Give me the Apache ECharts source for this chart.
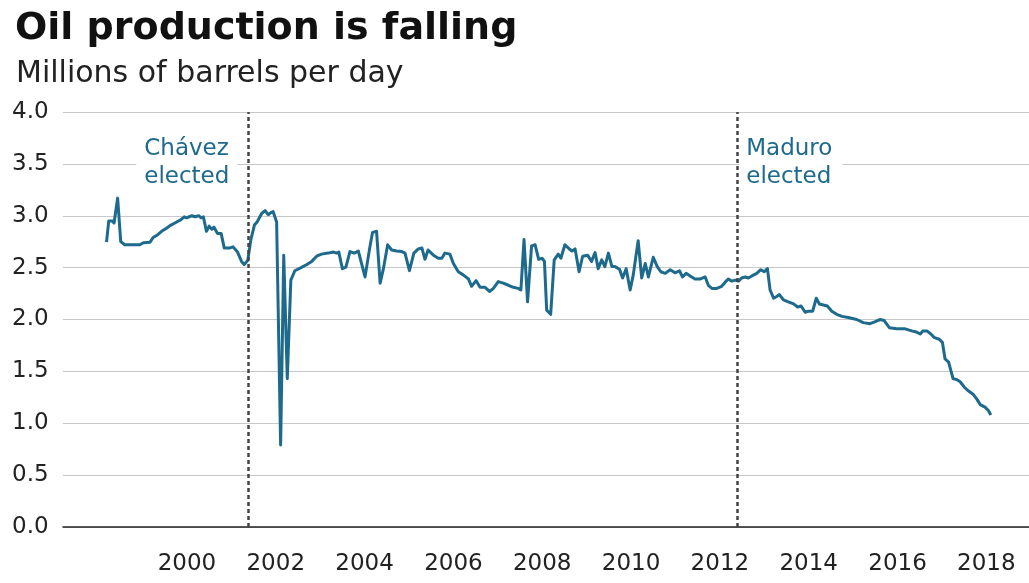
<!DOCTYPE html>
<html>
<head>
<meta charset="utf-8">
<title>Oil production is falling</title>
<script src="https://cdn.jsdelivr.net/npm/echarts@6/dist/echarts.min.js"></script>
<style>
  html, body { margin: 0; padding: 0; background: #fff; }
  #chart { width: 1029px; height: 583px; }
</style>
</head>
<body>
<div id="chart"></div>
<script>
// fractional years
const years = [
  1998.19, 1998.24, 1998.32, 1998.36, 1998.44, 1998.51, 1998.60, 1998.94, 1999.02, 1999.17,
  1999.24, 1999.35, 1999.43, 1999.54, 1999.64, 1999.77, 1999.86, 1999.94, 1999.99, 2000.11,
  2000.18, 2000.27, 2000.32, 2000.37, 2000.44, 2000.50, 2000.56, 2000.61, 2000.69, 2000.77,
  2000.84, 2000.97, 2001.04, 2001.14, 2001.23, 2001.29, 2001.37, 2001.44, 2001.52, 2001.58,
  2001.68, 2001.76, 2001.83, 2001.89, 2001.94, 2002.02, 2002.11, 2002.18, 2002.26, 2002.34,
  2002.43, 2002.57, 2002.70, 2002.81, 2002.92, 2003.03, 2003.18, 2003.30, 2003.37, 2003.42,
  2003.50, 2003.58, 2003.67, 2003.77, 2003.86, 2004.01, 2004.12, 2004.18, 2004.27, 2004.35,
  2004.42, 2004.52, 2004.61, 2004.72, 2004.84, 2004.91, 2005.01, 2005.11, 2005.21, 2005.29,
  2005.36, 2005.43, 2005.55, 2005.66, 2005.74, 2005.81, 2005.92, 2006.00, 2006.11, 2006.22,
  2006.34, 2006.41, 2006.51, 2006.60, 2006.71, 2006.82, 2006.90, 2007.01, 2007.12, 2007.24,
  2007.35, 2007.46, 2007.52, 2007.59, 2007.67, 2007.76, 2007.84, 2007.92, 2008.00, 2008.05,
  2008.10, 2008.19, 2008.27, 2008.36, 2008.42, 2008.51, 2008.61, 2008.67, 2008.74, 2008.83,
  2008.91, 2009.02, 2009.11, 2009.19, 2009.26, 2009.34, 2009.41, 2009.49, 2009.57, 2009.64,
  2009.74, 2009.81, 2009.89, 2009.98, 2010.05, 2010.16, 2010.24, 2010.32, 2010.39, 2010.50,
  2010.59, 2010.67, 2010.77, 2010.88, 2010.99, 2011.09, 2011.16, 2011.24, 2011.33, 2011.44,
  2011.55, 2011.67, 2011.74, 2011.82, 2011.93, 2012.04, 2012.12, 2012.19, 2012.27, 2012.34,
  2012.42, 2012.49, 2012.57, 2012.64, 2012.72, 2012.83, 2012.92, 2013.00, 2013.07, 2013.13,
  2013.21, 2013.27, 2013.34, 2013.43, 2013.54, 2013.66, 2013.75, 2013.83, 2013.92, 2013.99,
  2014.09, 2014.17, 2014.24, 2014.33, 2014.42, 2014.52, 2014.63, 2014.75, 2014.89, 2015.08,
  2015.23, 2015.38, 2015.50, 2015.61, 2015.70, 2015.82, 2015.98, 2016.17, 2016.32, 2016.42,
  2016.51, 2016.57, 2016.66, 2016.75, 2016.83, 2016.94, 2017.01, 2017.07, 2017.15, 2017.25,
  2017.34, 2017.41, 2017.50, 2017.57, 2017.70, 2017.79, 2017.86, 2017.97, 2018.05, 2018.10
];

// millions of barrels per day
const production = [
  2.745, 2.95, 2.95, 2.93, 3.17, 2.75, 2.72, 2.72, 2.74, 2.745,
  2.79, 2.82, 2.85, 2.88, 2.91, 2.94, 2.96, 2.99, 2.98, 3.00,
  2.99, 3.00, 2.98, 2.99, 2.85, 2.90, 2.87, 2.89, 2.83, 2.83,
  2.69, 2.69, 2.70, 2.65, 2.56, 2.53, 2.57, 2.77, 2.91, 2.94,
  3.02, 3.05, 3.01, 3.03, 3.04, 2.94, 0.79, 2.62, 1.43, 2.38,
  2.47, 2.50, 2.53, 2.56, 2.61, 2.63, 2.64, 2.65, 2.64, 2.65,
  2.49, 2.505, 2.655, 2.64, 2.66, 2.41, 2.70, 2.84, 2.85, 2.35,
  2.48, 2.72, 2.67, 2.66, 2.655, 2.64, 2.47, 2.64, 2.68, 2.69,
  2.58, 2.67, 2.62, 2.59, 2.59, 2.64, 2.63, 2.54, 2.46, 2.43,
  2.39, 2.32, 2.375, 2.31, 2.31, 2.27, 2.30, 2.365, 2.35, 2.33,
  2.31, 2.30, 2.285, 2.77, 2.17, 2.71, 2.72, 2.58, 2.59, 2.56,
  2.09, 2.05, 2.575, 2.63, 2.59, 2.72, 2.68, 2.66, 2.68, 2.46,
  2.61, 2.62, 2.56, 2.645, 2.49, 2.575, 2.51, 2.64, 2.51, 2.51,
  2.485, 2.40, 2.49, 2.285, 2.43, 2.76, 2.40, 2.54, 2.41, 2.60,
  2.51, 2.46, 2.445, 2.48, 2.45, 2.47, 2.41, 2.445, 2.42, 2.39,
  2.39, 2.41, 2.33, 2.30, 2.30, 2.32, 2.36, 2.39, 2.37, 2.38,
  2.37, 2.40, 2.41, 2.40, 2.42, 2.445, 2.48, 2.46, 2.49, 2.285,
  2.205, 2.22, 2.24, 2.19, 2.17, 2.15, 2.12, 2.13, 2.07, 2.08,
  2.08, 2.205, 2.15, 2.14, 2.13, 2.08, 2.05, 2.03, 2.02, 2.00,
  1.97, 1.96, 1.98, 2.00, 1.99, 1.92, 1.91, 1.91, 1.89, 1.88,
  1.86, 1.89, 1.89, 1.86, 1.825, 1.81, 1.78, 1.62, 1.59, 1.43,
  1.42, 1.40, 1.35, 1.32, 1.28, 1.23, 1.18, 1.155, 1.12, 1.08
];

const yearTicks = [2000, 2002, 2004, 2006, 2008, 2010, 2012, 2014, 2016, 2018];

const events = ["Chávez\nelected", "Maduro\nelected"];
const eventYears = [2001.37, 2012.38];

const teal = "#1d6a8d";
const font = "DejaVu Sans";

const chart = echarts.init(document.getElementById("chart"), null, { renderer: "canvas" });

const option = {
  backgroundColor: "#fff",
  animation: false,
  title: [
    {
      text: "Oil production is falling",
      left: 10,
      top: 5,
      textStyle: { fontFamily: font, fontSize: 38, fontWeight: "bold", color: "#111" }
    },
    {
      text: "Millions of barrels per day",
      left: 11,
      top: 54,
      textStyle: { fontFamily: font, fontSize: 30, fontWeight: "normal", color: "#222" }
    }
  ],
  grid: { left: 63, right: 0, top: 112, bottom: 56, containLabel: false },
  xAxis: {
    type: "value",
    min: 1997.21,
    max: 2018.96,
    splitLine: { show: false },
    axisTick: { show: false },
    axisLine: { show: true, lineStyle: { color: "#222", width: 1.5 } },
    axisLabel: {
      customValues: yearTicks,
      formatter: v => String(Math.round(v)),
      margin: 26,
      fontFamily: font,
      fontSize: 23,
      color: "#222"
    }
  },
  yAxis: {
    type: "value",
    min: 0,
    max: 4,
    interval: 0.5,
    axisLine: { show: false },
    axisTick: { show: false },
    splitLine: { lineStyle: { color: "#c8c8c8", width: 1 } },
    axisLabel: {
      formatter: v => v.toFixed(1),
      align: "left",
      margin: 51,
      fontFamily: font,
      fontSize: 23,
      color: "#222"
    }
  },
  series: [
    {
      type: "line",
      data: years.map((y, i) => [y, production[i]]),
      showSymbol: false,
      lineStyle: { color: teal, width: 3, join: "round" },
      z: 3,
      markLine: {
        silent: true,
        symbol: ["none", "none"],
        label: { show: false },
        lineStyle: { color: "#444", width: 2.5, type: [4, 3] },
        data: eventYears.map(x => ({ xAxis: x }))
      },
      markPoint: {
        silent: true,
        symbol: "rect",
        symbolSize: 1,
        itemStyle: { color: "transparent" },
        label: {
          show: true,
          fontFamily: font,
          fontSize: 23,
          lineHeight: 28,
          color: teal,
          align: "left",
          verticalAlign: "middle",
          backgroundColor: "#fff"
        },
        data: [
          {
            coord: [eventYears[0], 3.5],
            value: events[0],
            label: { formatter: events[0], position: [-111, 0], padding: [2, 8, 2, 8] }
          },
          {
            coord: [eventYears[1], 3.5],
            value: events[1],
            label: { formatter: events[1], position: [3, 0], padding: [2, 10, 2, 7] }
          }
        ]
      }
    }
  ]
};

chart.setOption(option);
</script>
</body>
</html>
